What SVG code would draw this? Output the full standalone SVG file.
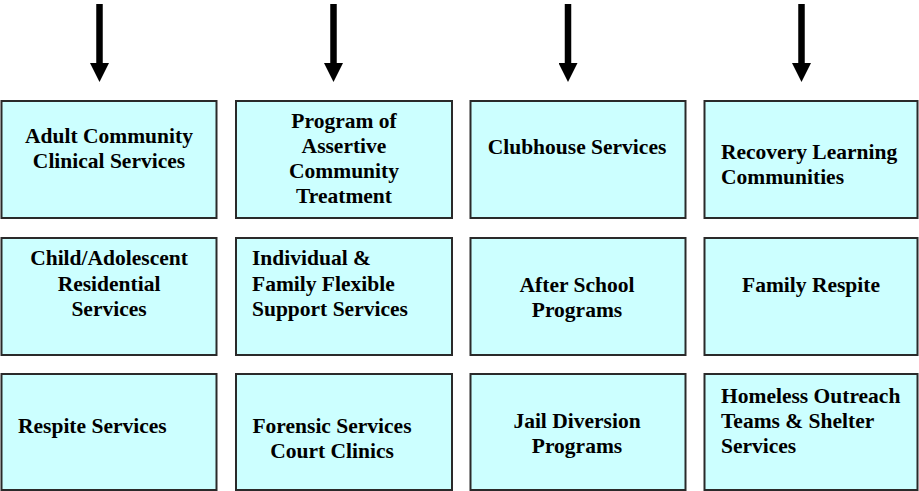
<svg xmlns="http://www.w3.org/2000/svg" width="919" height="491" viewBox="0 0 919 491">
<style>
.box{fill:#CCFFFF;stroke:#2a2a2a;stroke-width:2}
.t{font-family:"Liberation Serif","Times New Roman",serif;font-weight:bold;font-size:21.5px;fill:#000}
.c{text-anchor:middle}
.arr{stroke:#000;stroke-width:6.5;fill:none;marker-end:url(#ah)}
</style>
<defs>
<marker id="ah" markerUnits="userSpaceOnUse" markerWidth="19" markerHeight="19" viewBox="0 0 19 19" refX="0" refY="9.5" orient="auto">
<path d="M0,0 L19,9.5 L0,19 z" fill="#000"/>
</marker>
</defs>
<rect width="919" height="491" fill="#fff"/>
<g id="connectors">
<line class="arr" x1="99.5" y1="4" x2="99.5" y2="63"/>
<line class="arr" x1="333.5" y1="4" x2="333.5" y2="63"/>
<line class="arr" x1="568" y1="4" x2="568" y2="63"/>
<line class="arr" x1="801.5" y1="4" x2="801.5" y2="63"/>
</g>
<g id="adult-community">
<rect class="box" x="1.5" y="101" width="215" height="117"/>
<text class="t c" x="109" y="143">Adult Community</text>
<text class="t c" x="109" y="168">Clinical Services</text>
</g>
<g id="pact">
<rect class="box" x="236" y="101" width="216" height="117"/>
<text class="t c" x="344" y="128">Program of</text>
<text class="t c" x="344" y="153">Assertive</text>
<text class="t c" x="344" y="178">Community</text>
<text class="t c" x="344" y="203">Treatment</text>
</g>
<g id="clubhouse">
<rect class="box" x="470.5" y="101" width="215" height="117"/>
<text class="t c" x="577" y="154">Clubhouse Services</text>
</g>
<g id="recovery-learning">
<rect class="box" x="704.5" y="101" width="213" height="117"/>
<text class="t" x="721" y="159">Recovery Learning</text>
<text class="t" x="721" y="184">Communities</text>
</g>
<g id="child-adolescent">
<rect class="box" x="1.5" y="238" width="215" height="117"/>
<text class="t c" x="109" y="265">Child/Adolescent</text>
<text class="t c" x="109" y="290.5">Residential</text>
<text class="t c" x="109" y="316">Services</text>
</g>
<g id="flexible-support">
<rect class="box" x="236" y="238" width="216" height="117"/>
<text class="t" x="252" y="265">Individual &amp;</text>
<text class="t" x="252" y="290.5">Family Flexible</text>
<text class="t" x="252" y="316">Support Services</text>
</g>
<g id="after-school">
<rect class="box" x="470.5" y="238" width="215" height="117"/>
<text class="t c" x="577" y="291.5">After School</text>
<text class="t c" x="577" y="316.5">Programs</text>
</g>
<g id="family-respite">
<rect class="box" x="704.5" y="238" width="213" height="117"/>
<text class="t c" x="811" y="291.5">Family Respite</text>
</g>
<g id="respite">
<rect class="box" x="1.5" y="374" width="215" height="116"/>
<text class="t" x="18" y="432.5">Respite Services</text>
</g>
<g id="forensic">
<rect class="box" x="236" y="374" width="216" height="116"/>
<text class="t c" x="332" y="432.5">Forensic Services</text>
<text class="t c" x="332" y="458">Court Clinics</text>
</g>
<g id="jail-diversion">
<rect class="box" x="470.5" y="374" width="215" height="116"/>
<text class="t c" x="577" y="428">Jail Diversion</text>
<text class="t c" x="577" y="453">Programs</text>
</g>
<g id="homeless">
<rect class="box" x="704.5" y="374" width="213" height="116"/>
<text class="t" x="721" y="403">Homeless Outreach</text>
<text class="t" x="721" y="428">Teams &amp; Shelter</text>
<text class="t" x="721" y="453">Services</text>
</g>
</svg>
